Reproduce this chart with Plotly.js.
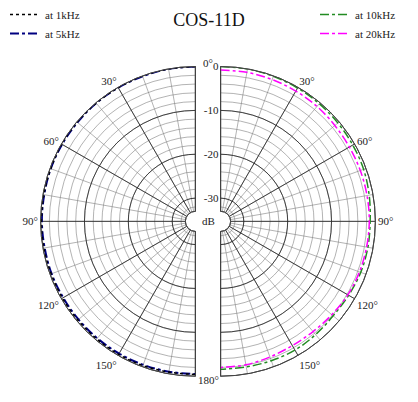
<!DOCTYPE html>
<html>
<head>
<meta charset="utf-8">
<script src="https://cdn.plot.ly/plotly-3.0.1.min.js"></script>
<style>
  html, body { margin: 0; padding: 0; background: #fff; }
  #chart { width: 418px; height: 402px; }
</style>
</head>
<body>
<div id="chart"></div>
<script>
// angles (deg from front) and sensitivity (dB)
var theta = [0, 10, 20, 30, 40, 50, 60, 70, 80, 90, 100, 110, 120, 130, 140, 150, 160, 170, 180];
var db1k  = [0, 0, 0, -0.1, -0.1, -0.1, -0.1, -0.2, -0.2, -0.2, -0.2, -0.3, -0.3, -0.3, -0.3, -0.3, -0.3, -0.4, -0.4];
var db5k  = [0, 0, -0.1, -0.1, -0.1, -0.2, -0.2, -0.2, -0.3, -0.3, -0.4, -0.4, -0.5, -0.5, -0.5, -0.5, -0.5, -0.5, -0.5];
var db10k = [0, 0, -0.1, -0.2, -0.3, -0.4, -0.5, -0.6, -0.9, -1.2, -1.2, -1.3, -1.6, -1.8, -1.6, -1.4, -1.5, -1.6, -1.6];
var db20k = [-0.8, -0.8, -0.9, -1.0, -1.1, -1.3, -1.4, -1.4, -1.4, -1.4, -1.5, -1.6, -1.8, -2.2, -2.5, -2.6, -2.4, -2.1, -2.0];

var angTicks = [0, 30, 60, 90, 120, 150, 180];
var angText  = ['', '30°', '60°', '90°', '120°', '150°', ''];
var dbTicks  = [-30, -20, -10, 0];
var dbText   = ['-30', '-20', '-10', '0'];

var W = 418, H = 402;
var cx = 208, cy = 220, R = 156, gap = 12;
var font = 'Liberation Serif, Times New Roman, serif';

function half(side, dark) {
  var left = side === 'left';
  var dom = {
    x: left ? [(cx - gap - R) / W, (cx - gap) / W] : [(cx + gap) / W, (cx + gap + R) / W],
    y: [(H - cy - R) / H, (H - cy + R) / H]
  };
  var gc = dark ? '#222' : '#808080';
  var gw = dark ? 0.8 : 0.6;
  return {
    domain: dom,
    sector: left ? [90, 270] : [-90, 90],
    hole: 0.065,
    bgcolor: dark ? 'rgba(0,0,0,0)' : '#fff',
    radialaxis: {
      range: [-33, 0], tick0: 0, dtick: dark ? 10 : 2,
      tickmode: dark ? 'array' : 'linear',
      tickvals: dark ? dbTicks : undefined,
      ticktext: dark ? dbText : undefined,
      showticklabels: dark && !left,
      angle: 90, side: 'counterclockwise', tickangle: 90,
      ticks: '', showline: false,
      gridcolor: gc, gridwidth: gw,
      tickfont: {family: font, size: 11, color: '#222'}
    },
    angularaxis: {
      rotation: 90, direction: left ? 'counterclockwise' : 'clockwise',
      tickmode: dark ? 'array' : 'linear', tick0: 0, dtick: 10,
      tickvals: dark ? angTicks : undefined,
      ticktext: dark ? angText : undefined,
      showticklabels: dark, ticks: '',
      linecolor: '#444', linewidth: 1,
      gridcolor: gc, gridwidth: gw,
      tickfont: {family: font, size: 11, color: '#222'}
    }
  };
}

function series(r, name, color, dash, sub, leg, w) {
  return {
    type: 'scatterpolar', mode: 'lines', r: r, theta: theta, name: name,
    subplot: sub, legend: leg, cliponaxis: false, hoverinfo: 'skip',
    line: {color: color, dash: dash, width: w, shape: 'spline'}
  };
}

// invisible carrier so the fine-grid subplot underneath gets drawn
function carrier(r, sub) {
  var t = series(r, '', '#fff', 'solid', sub, 'legend', 0);
  t.opacity = 0;
  t.showlegend = false;
  return t;
}

var data = [
  carrier(db1k, 'polar'),
  carrier(db10k, 'polar3'),
  series(db5k, 'at 5kHz', '#000080', 'dashdot', 'polar2', 'legend', 2),
  series(db1k, 'at 1kHz', '#000000', 'dot', 'polar2', 'legend', 1.5),
  series(db10k, 'at 10kHz', '#228b22', 'dashdot', 'polar4', 'legend2', 1.5),
  series(db20k, 'at 20kHz', '#ff00ff', 'dashdot', 'polar4', 'legend2', 1.5)
];

function legendAt(x, xanchor, order) {
  return {
    x: x, xanchor: xanchor, y: 1 + 3 / H, yanchor: 'top',
    bgcolor: 'rgba(0,0,0,0)', traceorder: order, tracegroupgap: 0,
    font: {family: font, size: 11, color: '#222'}
  };
}

var layout = {
  width: W, height: H,
  margin: {l: 0, r: 0, t: 0, b: 0},
  paper_bgcolor: '#fff',
  font: {family: font},
  title: {text: 'COS-11D', x: 0.5, xanchor: 'center', y: 1 - 20 / H, yanchor: 'middle',
          font: {family: font, size: 18, color: '#111'}},
  polar: half('left', false),
  polar2: half('left', true),
  polar3: half('right', false),
  polar4: half('right', true),
  legend: legendAt(5 / W, 'left', 'reversed'),
  legend2: legendAt(1 - 17 / W, 'right', 'normal'),
  annotations: [
    {text: '0°', x: cx / W, y: 1 - 52 / H},
    {text: '180°', x: cx / W, y: 1 - 388 / H},
    {text: 'dB', x: cx / W, y: 1 - cy / H}
  ].map(function (a) {
    return Object.assign({xref: 'paper', yref: 'paper', showarrow: false,
      font: {family: font, size: 11, color: '#222'}}, a);
  })
};

Plotly.newPlot('chart', data, layout, {displayModeBar: false, staticPlot: true});
</script>
</body>
</html>
